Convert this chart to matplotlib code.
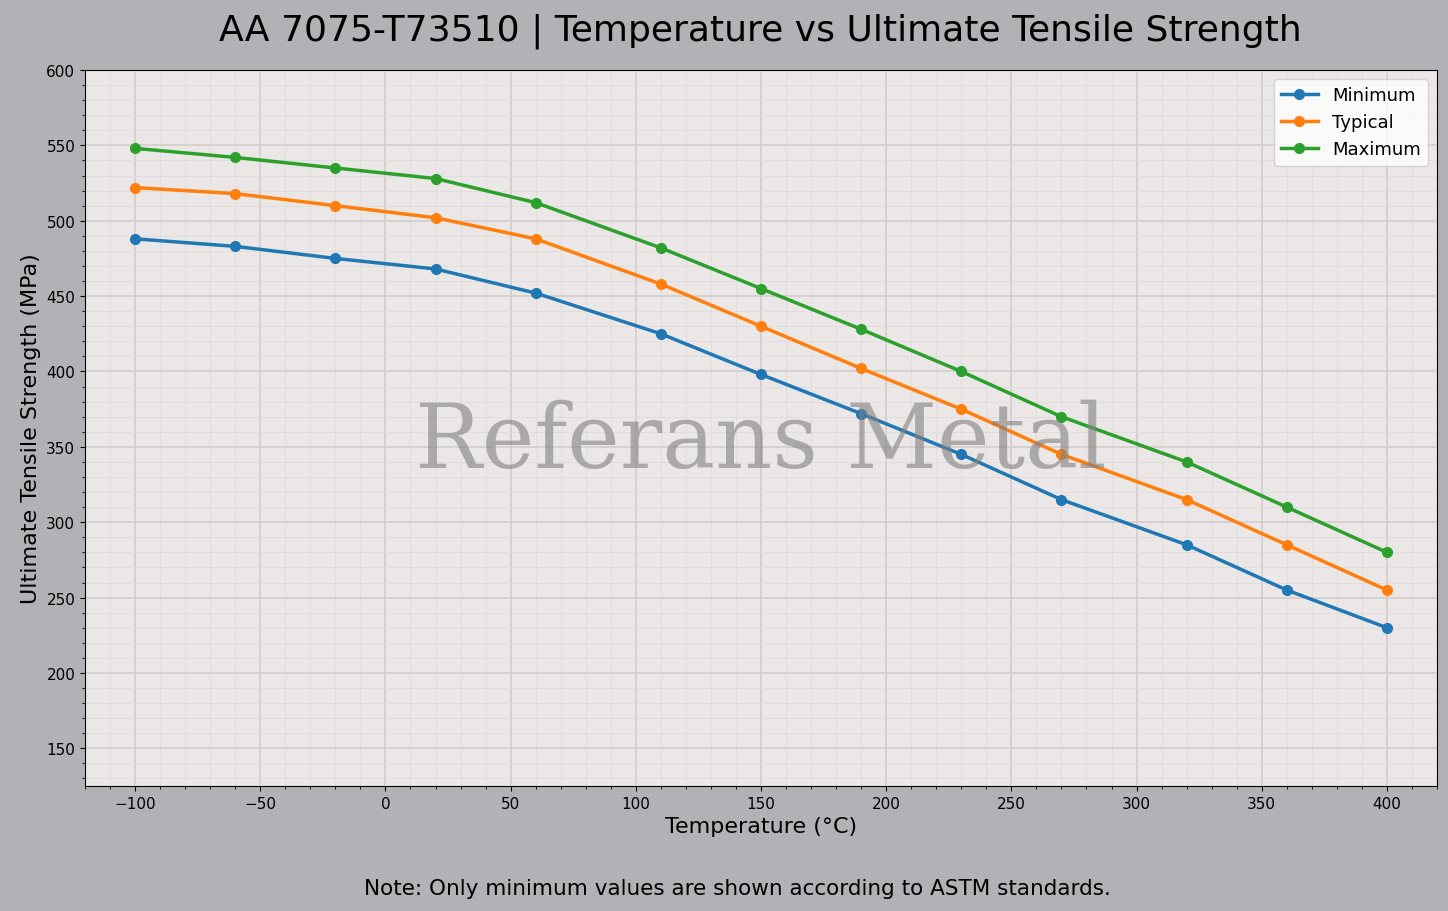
import matplotlib
matplotlib.use('Agg')
import matplotlib.pyplot as plt
from matplotlib.ticker import AutoMinorLocator, MultipleLocator

temps = [-100, -60, -20, 20, 60, 110, 150, 190, 230, 270, 320, 360, 400]
uts_min = [488, 483, 475, 468, 452, 425, 398, 372, 345, 315, 285, 255, 230]
uts_typ = [522, 518, 510, 502, 488, 458, 430, 402, 375, 345, 315, 285, 255]
uts_max = [548, 542, 535, 528, 512, 482, 455, 428, 400, 370, 340, 310, 280]

fig = plt.figure(figsize=(14.48, 9.12), dpi=100, facecolor='#b2b1b6')
ax = fig.add_axes([85/1448, 1 - 787/912, (1437-85)/1448, (787-71)/912])
ax.set_facecolor('#ebe7e6')

ax.plot(temps, uts_min, '-o', color='#1f77b4', lw=2.5, ms=7, label='Minimum')
ax.plot(temps, uts_typ, '-o', color='#ff7f0e', lw=2.5, ms=7, label='Typical')
ax.plot(temps, uts_max, '-o', color='#2ca02c', lw=2.5, ms=7, label='Maximum')

ax.set_xlim(-120, 420)
ax.set_ylim(125, 600)
ax.xaxis.set_major_locator(MultipleLocator(50))
ax.set_yticks(range(150, 601, 50))
ax.xaxis.set_minor_locator(AutoMinorLocator(5))
ax.yaxis.set_minor_locator(AutoMinorLocator(5))
ax.grid(True, which='major', color='#d2cdcc', lw=1.2)
ax.grid(True, which='minor', color='#dedad9', lw=0.5)
ax.set_axisbelow(True)
ax.tick_params(labelsize=11)

ax.set_xlabel('Temperature (°C)', fontsize=16)
ax.set_ylabel('Ultimate Tensile Strength (MPa)', fontsize=16)
fig.text(760/1448, 0.966, 'AA 7075-T73510 | Temperature vs Ultimate Tensile Strength',
         ha='center', va='center', fontsize=26)
ax.legend(loc='upper right', fontsize=13)

ax.text(0.5, 0.48, 'Referans Metal', transform=ax.transAxes, ha='center', va='center',
        fontsize=64, family='DejaVu Serif', color='gray', alpha=0.6, zorder=10)
fig.text(737/1448, 0.025, 'Note: Only minimum values are shown according to ASTM standards.',
         ha='center', va='center', fontsize=15.5)

fig.savefig('out.png', dpi=100, facecolor=fig.get_facecolor())
